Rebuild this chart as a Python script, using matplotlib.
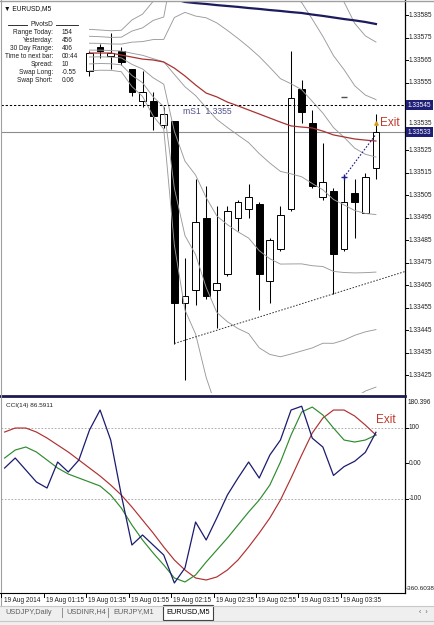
import matplotlib
matplotlib.use('Agg')
import matplotlib.pyplot as plt
from matplotlib.lines import Line2D
from matplotlib.patches import Rectangle
import matplotlib.transforms as mtransforms

plt.rcParams['font.family'] = ['Liberation Sans', 'DejaVu Sans']

W, H = 435, 625

# ---------------- data ----------------
bar_idx = list(range(28))  # 19 Aug 01:35 ... 03:50 (M5 bars)
opens = [1.33560, 1.33571, 1.33567, 1.33569, 1.33561, 1.33547, 1.33547, 1.33536,
         1.33538, 1.33457, 1.33463, 1.33495, 1.33463, 1.33470, 1.33495, 1.33499,
         1.33501, 1.33467, 1.33481, 1.33499, 1.33552, 1.33537, 1.33504, 1.33507,
         1.33481, 1.33506, 1.33497, 1.33517]
highs = [1.33569, 1.33572, 1.33577, 1.33571, 1.33561, 1.33560, 1.33551, 1.33544,
         1.33538, 1.33477, 1.33512, 1.33509, 1.33500, 1.33500, 1.33503, 1.33510,
         1.33502, 1.33486, 1.33500, 1.33569, 1.33556, 1.33543, 1.33528, 1.33508,
         1.33513, 1.33512, 1.33515, 1.33541]
lows = [1.33558, 1.33566, 1.33561, 1.33563, 1.33549, 1.33544, 1.33534, 1.33535,
        1.33439, 1.33423, 1.33456, 1.33459, 1.33446, 1.33469, 1.33489, 1.33495,
        1.33454, 1.33457, 1.33480, 1.33498, 1.33537, 1.33508, 1.33503, 1.33461,
        1.33480, 1.33486, 1.33497, 1.33512]
closes = [1.33568, 1.33569, 1.33568, 1.33564, 1.33551, 1.33551, 1.33540, 1.33541,
          1.33457, 1.33460, 1.33493, 1.33460, 1.33466, 1.33498, 1.33502, 1.33504,
          1.33470, 1.33485, 1.33496, 1.33548, 1.33542, 1.33509, 1.33511, 1.33479,
          1.33502, 1.33502, 1.33513, 1.33533]

# Bollinger middle line and one standard deviation (bands at 1, 2, 3 deviations)
bb_mid = [1.335694, 1.335694, 1.335692, 1.335690, 1.335680, 1.335671, 1.335656, 1.335642,
          1.335586, 1.335531, 1.335492, 1.335438, 1.335386, 1.335350, 1.335316, 1.335283,
          1.335234, 1.335192, 1.335155, 1.335144, 1.335131, 1.335101, 1.335073, 1.335030,
          1.335006, 1.334981, 1.334968, 1.334963]
bb_sigma = [0.0000307, 0.0000298, 0.0000293, 0.0000307, 0.0000493, 0.0000609, 0.0000849, 0.0000996,
            0.0002529, 0.0003307, 0.0003533, 0.0003996, 0.0004289, 0.0004316, 0.0004298, 0.0004244,
            0.0004316, 0.0004253, 0.0004120, 0.0004004, 0.0003871, 0.0003653, 0.0003409, 0.0003196,
            0.0003004, 0.0002773, 0.0002631, 0.0002556]
bb_devs = [-3, -2, -1, 0, 1, 2, 3]

ma_red = [1.335681, 1.335681, 1.335681, 1.335672, 1.335663, 1.335654, 1.335650, 1.335641,
          1.335614, 1.335579, 1.335539, 1.335503, 1.335486, 1.335463, 1.335446, 1.335428,
          1.335410, 1.335392, 1.335374, 1.335357, 1.335352, 1.335348, 1.335334, 1.335317,
          1.335308, 1.335299, 1.335294, 1.335290]
ma_navy_idx = list(range(6, 28))
ma_navy = [1.335943, 1.335930, 1.335921, 1.335908, 1.335903, 1.335899, 1.335894, 1.335890,
           1.335886, 1.335881, 1.335877, 1.335872, 1.335868, 1.335863, 1.335859, 1.335852,
           1.335846, 1.335839, 1.335832, 1.335826, 1.335819, 1.335810]

pivot_mS1 = 1.33545
bid_price = 1.33533
trend_x = [8, 29.74]
trend_y = [1.33439, 1.33471]
trade_x = [24, 27]
trade_y = [1.33513, 1.33532]

price_ticks = [1.33585, 1.33575, 1.33565, 1.33555, 1.33545, 1.33535, 1.33525, 1.33515,
               1.33505, 1.33495, 1.33485, 1.33475, 1.33465, 1.33455, 1.33445, 1.33435, 1.33425]
price_labels = ['1.33585', '1.33575', '1.33565', '1.33555', '1.33545', '1.33535', '1.33525',
                '1.33515', '1.33505', '1.33495', '1.33485', '1.33475', '1.33465', '1.33455',
                '1.33445', '1.33435', '1.33425']

cci_idx = list(range(-8, 28))
cci_navy = [-14.1, 14.1, -19.7, -53.5, -70.4, 2.8, -25.4, 8.5,
            93.0, 149.3, 64.8, -90.1, -231.0, -202.8, -231.0, -259.2,
            -338.0, -295.8, -166.2, -216.9, -154.9, -90.1, -42.3, 2.8,
            -42.3, 22.5, 64.8, 149.3, 160.0, 70.0, 45.0, -35.0,
            -10.0, 5.0, 30.0, 86.6]
cci_green = [14.1, 36.6, 45.1, 31.0, 8.5, -14.1, -31.0, -42.3,
             -53.5, -64.8, -90.1, -126.8, -174.6, -216.9, -253.5, -287.3,
             -323.9, -335.2, -315.5, -278.9, -245.1, -211.3, -174.6, -138.0,
             -104.2, -62.0, 2.8, 78.9, 143.7, 157.7, 135.2, 98.6,
             64.8, 59.2, 64.8, 78.9]
cci_red = [87.3, 98.6, 98.6, 87.3, 70.4, 50.7, 31.0, 8.5,
           -14.1, -36.6, -62.0, -90.1, -123.9, -160.6, -197.2, -236.6,
           -273.2, -301.4, -323.9, -329.6, -321.1, -301.4, -273.2, -236.6,
           -197.2, -154.9, -104.2, -42.3, 22.5, 84.5, 126.8, 149.3,
           149.3, 132.4, 107.0, 78.9]
cci_ticks = [100, 0, -100]
cci_tick_labels = ['100', '0.00', '-100']
cci_top, cci_bottom = 180.396, -360.6038

time_idx = [-8, -4, 0, 4, 8, 12, 16, 20, 24]
time_labels = ['19 Aug 2014', '19 Aug 01:15', '19 Aug 01:35', '19 Aug 01:55', '19 Aug 02:15',
               '19 Aug 02:35', '19 Aug 02:55', '19 Aug 03:15', '19 Aug 03:35']

info_labels = ['Range Today:', 'Yesterday:', '30 Day Range:', 'Time to next bar:',
               'Spread:', 'Swap Long:', 'Swap Short:']
info_values = ['154', '456', '406', '00:44', '10', '-0.55', '0.06']

tab_labels = ['USDJPY,Daily', 'USDINR,H4', 'EURJPY,M1', 'EURUSD,M5']

# ---------------- figure ----------------
def fx(x):
    return x / W

def fy(y):
    return 1 - y / H

fig = plt.figure(figsize=(W / 100, H / 100), dpi=100, facecolor='white')

XL = (-8.34, 29.74)
ax = fig.add_axes([fx(1), fy(393), 404 / W, 391 / H])
ax.set_xlim(*XL)
ax.set_ylim(1.33417, 1.3359078)
ax.set_axis_off()

cax = fig.add_axes([fx(1), fy(591), 404 / W, 192 / H])
cax.set_xlim(*XL)
cax.set_ylim(cci_bottom, cci_top)
cax.set_axis_off()

# candles
for i, o, h, l, c in zip(bar_idx, opens, highs, lows, closes):
    ax.vlines(i, l, h, color='black', lw=0.75, zorder=2)
    bull = c >= o
    ax.bar(i, max(abs(c - o), 0.000004), bottom=min(o, c), width=0.64,
           color='white' if bull else 'black', edgecolor='black', lw=0.7, zorder=3)

# Bollinger bands
for k in bb_devs:
    ax.plot(bar_idx, [m + k * s for m, s in zip(bb_mid, bb_sigma)],
            color='#9a9a9a', lw=0.65, zorder=4)
ax.plot(bar_idx, ma_red, color='#a83232', lw=0.9, zorder=5)
ax.plot(ma_navy_idx, ma_navy, color='#1b1b5e', lw=1.6, zorder=5)

# levels
ax.axhline(pivot_mS1, color='black', lw=0.75, ls=(0, (2.2, 1.8)), zorder=4)
ax.axhline(bid_price, color='#8c8c8c', lw=0.8, zorder=1)
ax.plot(trend_x, trend_y, color='#303030', lw=0.7, ls=(0, (1.6, 1.6)), zorder=4)
ax.plot(trade_x, trade_y, color='#1b1b8a', lw=0.8, ls=(0, (1.5, 1.5)), zorder=6)
ax.plot(trade_x[0], trade_y[0], marker='+', ms=4, mew=1.0, color='#1b1b8a', zorder=7)
ax.plot(trade_x[1], 1.33537, marker='^', ms=2.5, color='#d4a017', zorder=7)
ax.plot(24, 1.335486, marker='_', ms=4, mew=1.0, color='#505050', zorder=6)

ax.text(27.38, 1.33537, 'Exit', color='#c0392b', fontsize=8.5, ha='left', va='center', zorder=8)
fig.text(fx(183), fy(112), 'mS1  1.3355', color='#50508a', fontsize=6.2, ha='left', va='center')

# CCI panel
cax.axhline(100, color='#a0a0a0', lw=0.6, ls=(0, (2, 2)))
cax.axhline(-100, color='#a0a0a0', lw=0.6, ls=(0, (2, 2)))
cax.plot(cci_idx, cci_red, color='#b03030', lw=0.85, zorder=3)
cax.plot(cci_idx, cci_green, color='#2e8b2e', lw=0.85, zorder=3)
cax.plot(cci_idx, cci_navy, color='#1b1b70', lw=0.9, zorder=4)
cax.text(27.0, 121, 'Exit', color='#c0392b', fontsize=8.5, ha='left', va='center', zorder=8)
fig.text(fx(6), fy(405), 'CCI(14) 86.5911', fontsize=4.6, ha='left', va='center', color='#202020')

# frame lines
fig.add_artist(Line2D([fx(405), fx(405)], [fy(0), fy(593)], color='black', lw=0.9))
fig.add_artist(Line2D([fx(0), fx(405)], [fy(593), fy(593)], color='black', lw=0.8))
fig.add_artist(Line2D([fx(0), fx(405)], [fy(396), fy(396)], color='#1c1c50', lw=2.0))
fig.add_artist(Line2D([fx(0), fx(435)], [fy(0.8), fy(0.8)], color='#a0a0a0', lw=1.0))
fig.add_artist(Line2D([fx(0.5), fx(0.5)], [fy(0), fy(606)], color='#a0a0a0', lw=0.8))

# price axis labels
ptrans = mtransforms.blended_transform_factory(fig.transFigure, ax.transData)
for p, lab in zip(price_ticks, price_labels):
    if lab == '1.33545':
        continue  # hidden under the pivot marker box, as in the terminal
    fig.add_artist(Line2D([fx(405), fx(408)], [p, p], transform=ptrans, color='black', lw=0.7))
    yoff = 0.00002 if lab == '1.33535' else 0.0
    fig.text(fx(409), p + yoff, lab, transform=ptrans, fontsize=4.7, ha='left', va='center',
             color='#202020', zorder=2)
for p, lab in [(pivot_mS1, '1.33545'), (bid_price, '1.33533')]:
    fig.text(fx(407.5), p, lab, transform=ptrans, fontsize=4.7, ha='left', va='center', color='white',
             zorder=5, bbox=dict(boxstyle='square,pad=0.25', fc='#1f1f78', ec='none'))

# cci axis labels
ctrans = mtransforms.blended_transform_factory(fig.transFigure, cax.transData)
for v, lab in zip(cci_ticks, cci_tick_labels):
    fig.add_artist(Line2D([fx(405), fx(408)], [v, v], transform=ctrans, color='black', lw=0.7))
    fig.text(fx(409), v, lab, transform=ctrans, fontsize=4.7, ha='left', va='center', color='#202020')
fig.text(fx(408), cci_top, '180.396', transform=ctrans, fontsize=4.7, ha='left', va='top', color='#202020')
fig.text(fx(406), cci_bottom, '-360.6038', transform=ctrans, fontsize=4.6, ha='left', va='bottom',
         color='#202020')

# time axis
ttrans = mtransforms.blended_transform_factory(cax.transData, fig.transFigure)
for t, lab in zip(time_idx, time_labels):
    fig.add_artist(Line2D([t - 0.3, t - 0.3], [fy(593), fy(597)], transform=ttrans, color='black', lw=0.7))
    fig.text(t - 0.1, fy(600), lab, transform=ttrans, fontsize=4.7, ha='left', va='center', color='#202020')

# top-left labels
fig.text(fx(4), fy(9), '\u25bc EURUSD,M5', fontsize=4.8, ha='left', va='center', color='#101010')
fig.add_artist(Line2D([fx(8), fx(27)], [fy(25), fy(25)], color='#303030', lw=0.7))
fig.add_artist(Line2D([fx(56), fx(78)], [fy(25), fy(25)], color='#303030', lw=0.7))
fig.text(fx(42), fy(25), 'PivotsD', fontsize=4.8, ha='center', va='center', color='#202020')
for k, (lab, val) in enumerate(zip(info_labels, info_values)):
    y = 33 + 8 * k
    fig.text(fx(53), fy(y), lab, fontsize=4.7, ha='right', va='center', color='#202020')
    fig.text(fx(62), fy(y), val, fontsize=4.7, ha='left', va='center', color='#202020')

# tabs
fig.add_artist(Rectangle((0, 0), 1, fy(606), transform=fig.transFigure, fc='#efefef', ec='none', zorder=0))
fig.add_artist(Line2D([0, 1], [fy(606), fy(606)], color='#c8c8c8', lw=0.8))
fig.add_artist(Rectangle((fx(163), fy(620)), 50 / W, 15 / H, transform=fig.transFigure,
                         fc='white', ec='#404040', lw=0.8))
tab_x = [29, 86, 134, 188]
for x, lab in zip(tab_x, tab_labels):
    fig.text(fx(x), fy(612), lab, fontsize=5.3, ha='center', va='center',
             color='black' if lab == 'EURUSD,M5' else '#606060')
for x in [62, 108]:
    fig.add_artist(Line2D([fx(x), fx(x)], [fy(608), fy(617)], color='#909090', lw=0.7))
fig.text(fx(423), fy(612), '\u2039  \u203a', fontsize=5, ha='center', va='center', color='#606060')
fig.add_artist(Line2D([0, 1], [fy(621), fy(621)], color='#c8c8c8', lw=0.8))

fig.savefig('out.png', dpi=100, facecolor='white')
